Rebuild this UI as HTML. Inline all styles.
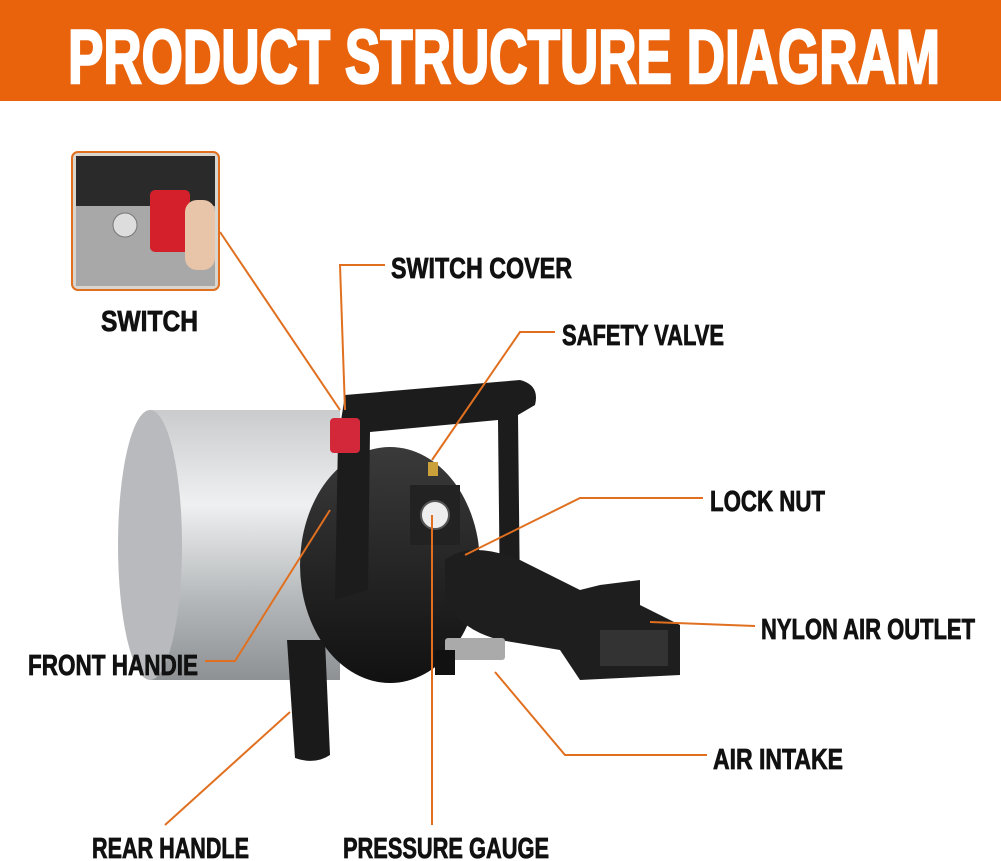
<!DOCTYPE html>
<html><head><meta charset="utf-8"><style>
html,body{margin:0;padding:0;background:#fff;width:1001px;height:861px;overflow:hidden}
svg{display:block}
text{font-family:"Liberation Sans",sans-serif;font-weight:bold}
</style></head><body>
<svg width="1001" height="861" viewBox="0 0 1001 861" xmlns="http://www.w3.org/2000/svg">
<defs>
<linearGradient id="cyl" x1="0" y1="0" x2="0" y2="1">
<stop offset="0" stop-color="#c9cbcd"/><stop offset="0.35" stop-color="#eef0f1"/><stop offset="0.7" stop-color="#b5b8ba"/><stop offset="1" stop-color="#8e9194"/>
</linearGradient>
<linearGradient id="blk" x1="0" y1="0" x2="0" y2="1">
<stop offset="0" stop-color="#3a3a3a"/><stop offset="1" stop-color="#111"/>
</linearGradient>
</defs>
<rect x="0" y="0" width="1001" height="101" fill="#e8630c"/>
<text x="68" y="83" font-size="76" fill="#fff" stroke="#fff" stroke-width="2.5" textLength="872" lengthAdjust="spacingAndGlyphs">PRODUCT STRUCTURE DIAGRAM</text>

<!-- inset photo -->
<rect x="72" y="152" width="147" height="138" rx="6" fill="#d9d6d2" stroke="#e07020" stroke-width="2"/>
<rect x="76" y="156" width="139" height="50" fill="#2a2a2a"/>
<rect x="76" y="206" width="139" height="80" fill="#a8a8a8"/>
<circle cx="125" cy="225" r="12" fill="#ddd" stroke="#777"/>
<rect x="150" y="190" width="40" height="62" rx="5" fill="#d3202a"/>
<rect x="185" y="200" width="30" height="70" rx="12" fill="#e8c4a8"/>

<!-- cylinder -->
<rect x="150" y="410" width="190" height="270" fill="url(#cyl)"/>
<ellipse cx="150" cy="545" rx="32" ry="135" fill="#b8babd"/>
<!-- rear handle -->
<path d="M287 640 L325 640 L330 755 Q315 765 295 758 Z" fill="#1a1a1a"/>
<!-- disk -->
<ellipse cx="390" cy="565" rx="90" ry="118" fill="url(#blk)"/>
<!-- handle loop -->
<path d="M338 440 L345 395 L520 380 Q540 385 535 405 L518 415 L520 600 L500 605 L498 420 L370 432 L368 590 L335 600 Z" fill="#1c1c1c"/>
<rect x="330" y="418" width="30" height="35" rx="4" fill="#d3283a"/>
<!-- gauge area -->
<rect x="410" y="485" width="50" height="60" fill="#222"/>
<circle cx="435" cy="515" r="14" fill="#eee" stroke="#555" stroke-width="2"/>
<rect x="428" y="462" width="10" height="14" fill="#c9a03a"/>
<!-- nozzle -->
<path d="M445 560 Q470 540 520 560 L580 590 L600 585 L640 580 L640 605 L680 625 L680 675 L580 680 L560 650 L500 640 Q460 630 445 600 Z" fill="#1e1e1e"/>
<rect x="600" y="630" width="68" height="36" fill="#333"/>
<rect x="445" y="638" width="60" height="22" rx="3" fill="#aaa"/>
<rect x="435" y="650" width="20" height="25" fill="#111"/>

<!-- leader lines -->
<g stroke="#e07020" stroke-width="2" fill="none">
<polyline points="385,265 340,265 345,410"/>
<line x1="220" y1="232" x2="340" y2="410"/>
<polyline points="555,332 520,332 432,460"/>
<polyline points="703,498 580,498 465,555"/>
<line x1="755" y1="626" x2="650" y2="622"/>
<polyline points="205,661 235,661 330,510"/>
<polyline points="707,755 565,755 495,672"/>
<line x1="165" y1="825" x2="290" y2="712"/>
<line x1="432" y1="825" x2="432" y2="515"/>
</g>

<g font-size="29" fill="#111" stroke="#111" stroke-width="0.8">
<text x="391" y="278" textLength="181" lengthAdjust="spacingAndGlyphs">SWITCH COVER</text>
<text x="101" y="331" textLength="97" lengthAdjust="spacingAndGlyphs">SWITCH</text>
<text x="562" y="345" textLength="162" lengthAdjust="spacingAndGlyphs">SAFETY VALVE</text>
<text x="710" y="511" textLength="115" lengthAdjust="spacingAndGlyphs">LOCK NUT</text>
<text x="761" y="639" textLength="214" lengthAdjust="spacingAndGlyphs">NYLON AIR OUTLET</text>
<text x="28" y="675" textLength="170" lengthAdjust="spacingAndGlyphs">FRONT HANDIE</text>
<text x="713" y="769" textLength="130" lengthAdjust="spacingAndGlyphs">AIR INTAKE</text>
<text x="92" y="858" textLength="157" lengthAdjust="spacingAndGlyphs">REAR HANDLE</text>
<text x="343" y="858" textLength="206" lengthAdjust="spacingAndGlyphs">PRESSURE GAUGE</text>
</g>
</svg>
</body></html>
